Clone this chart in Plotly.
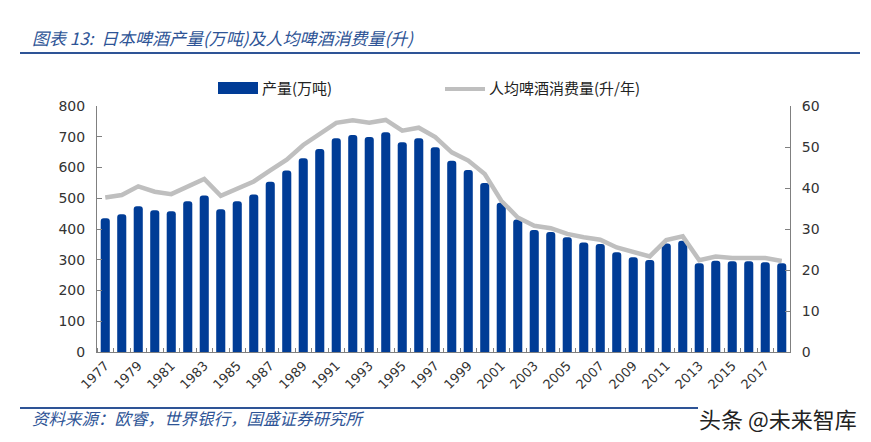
import plotly.graph_objects as go

# ---- data ----
years = list(range(1977, 2019))
production = [435, 448, 474, 461, 458, 490, 509, 464, 490, 512, 554, 590, 630, 660,
              695, 706, 699, 715, 682, 695, 666, 622, 592, 550, 485, 431, 397, 390,
              373, 356, 351, 324, 308, 299, 353, 362, 289, 297, 295, 295, 292, 289]
per_capita = [37.7, 38.3, 40.4, 39.1, 38.5, 40.3, 42.2, 38.1, 39.9, 41.6, 44.3, 46.9,
              50.5, 53.2, 55.9, 56.5, 55.9, 56.6, 54.0, 54.7, 52.4, 48.7, 46.7, 43.4,
              36.9, 32.8, 30.8, 30.2, 28.8, 28.0, 27.4, 25.5, 24.3, 23.3, 27.3, 28.2,
              22.4, 23.3, 22.9, 22.9, 22.9, 22.2]
tick_years = list(range(1977, 2018, 2))
tick_labels = [str(y) for y in tick_years]
bar_name = "产量(万吨)"
line_name = "人均啤酒消费量(升/年)"
title_text = "图表 13:  日本啤酒产量(万吨)及人均啤酒消费量(升)"
source_text = "资料来源：欧睿，世界银行，国盛证券研究所"
watermark_text = "头条 @未来智库"

# ---- layout geometry (page pixels; page has an 8px body margin) ----
OFF = 8
W, H = 871 - OFF, 442 - OFF
L, R, T, B = 97 - OFF, 790 - OFF, 106 - OFF, 352 - OFF


def px(x):
    return (x - OFF - L) / (R - L)


def py(y):
    return (B - (y - OFF)) / (B - T)


BLUE = "rgb(0,60,150)"
TBLUE = "rgb(46,84,150)"
GREY = "rgb(191,191,191)"
AX = "rgb(128,128,128)"
CJK = "Noto Sans CJK SC"
NUM = "DejaVu Sans"

fig = go.Figure()
fig.add_trace(go.Bar(x=years, y=production, name=bar_name, marker_color=BLUE,
                     marker_line_width=0, marker_cornerradius=3, showlegend=False))
fig.add_trace(go.Scatter(x=years, y=per_capita, name=line_name, yaxis="y2",
                         mode="lines", line=dict(color=GREY, width=4.5),
                         showlegend=False))

fig.update_layout(
    width=W, height=H, autosize=False,
    margin=dict(l=L, r=W - R, t=T, b=H - B, pad=0),
    paper_bgcolor="white", plot_bgcolor="white",
    bargap=0.45,
    xaxis=dict(range=[1976.5, 2018.5], tickmode="array", tickvals=tick_years,
               ticktext=tick_labels, tickangle=-45, ticks="", automargin=False,
               tickfont=dict(family=NUM, size=13, color="#333"),
               showline=True, linecolor=AX, linewidth=1, showgrid=False,
               zeroline=False,
               minor=dict(tickmode="array",
                          tickvals=[y + 0.5 for y in [1976] + years],
                          ticks="inside", ticklen=4, tickcolor=AX, showgrid=False)),
    yaxis=dict(range=[0, 800], dtick=100, ticks="inside", ticklen=5, tickcolor=AX,
               showline=True, linecolor=AX, linewidth=1, showgrid=False,
               zeroline=False, ticklabelstandoff=8, automargin=False,
               tickfont=dict(family=NUM, size=14, color="#333")),
    yaxis2=dict(range=[0, 60], dtick=10, overlaying="y", side="right",
                ticks="inside", ticklen=5, tickcolor=AX, showline=True,
                linecolor=AX, linewidth=1, showgrid=False, zeroline=False,
                ticklabelstandoff=8, automargin=False,
                tickfont=dict(family=NUM, size=14, color="#333")),
)

shapes = [
    # title rule
    dict(type="line", xref="paper", yref="paper", x0=px(20), x1=px(860),
         y0=py(53), y1=py(53), line=dict(color=TBLUE, width=2)),
    # footer rule
    dict(type="line", xref="paper", yref="paper", x0=px(20), x1=px(698),
         y0=py(408), y1=py(408), line=dict(color=TBLUE, width=2)),
    # legend swatches
    dict(type="rect", xref="paper", yref="paper", x0=px(218), x1=px(258),
         y0=py(94), y1=py(82), fillcolor=BLUE, line=dict(width=0)),
    dict(type="line", xref="paper", yref="paper", x0=px(445), x1=px(485),
         y0=py(89), y1=py(89), line=dict(color=GREY, width=4)),
]
fig.update_layout(shapes=shapes)

annotations = [
    dict(text=title_text, x=px(30), y=py(37), xref="paper", yref="paper",
         xanchor="left", yanchor="middle", showarrow=False,
         font=dict(family=CJK, size=17, color=TBLUE, style="italic")),
    dict(text=bar_name, x=px(260), y=py(88), xref="paper", yref="paper",
         xanchor="left", yanchor="middle", showarrow=False,
         font=dict(family=CJK, size=15, color="#222")),
    dict(text=line_name, x=px(487), y=py(88), xref="paper", yref="paper",
         xanchor="left", yanchor="middle", showarrow=False,
         font=dict(family=CJK, size=15, color="#222")),
    dict(text=source_text, x=px(30), y=py(418), xref="paper", yref="paper",
         xanchor="left", yanchor="middle", showarrow=False,
         font=dict(family=CJK, size=16.5, color=TBLUE, style="italic")),
    dict(text=watermark_text, x=px(697), y=py(418), xref="paper", yref="paper",
         xanchor="left", yanchor="middle", showarrow=False,
         font=dict(family=CJK, size=22, color="#222")),
]
fig.update_layout(annotations=annotations)

fig.write_html("out.html")
